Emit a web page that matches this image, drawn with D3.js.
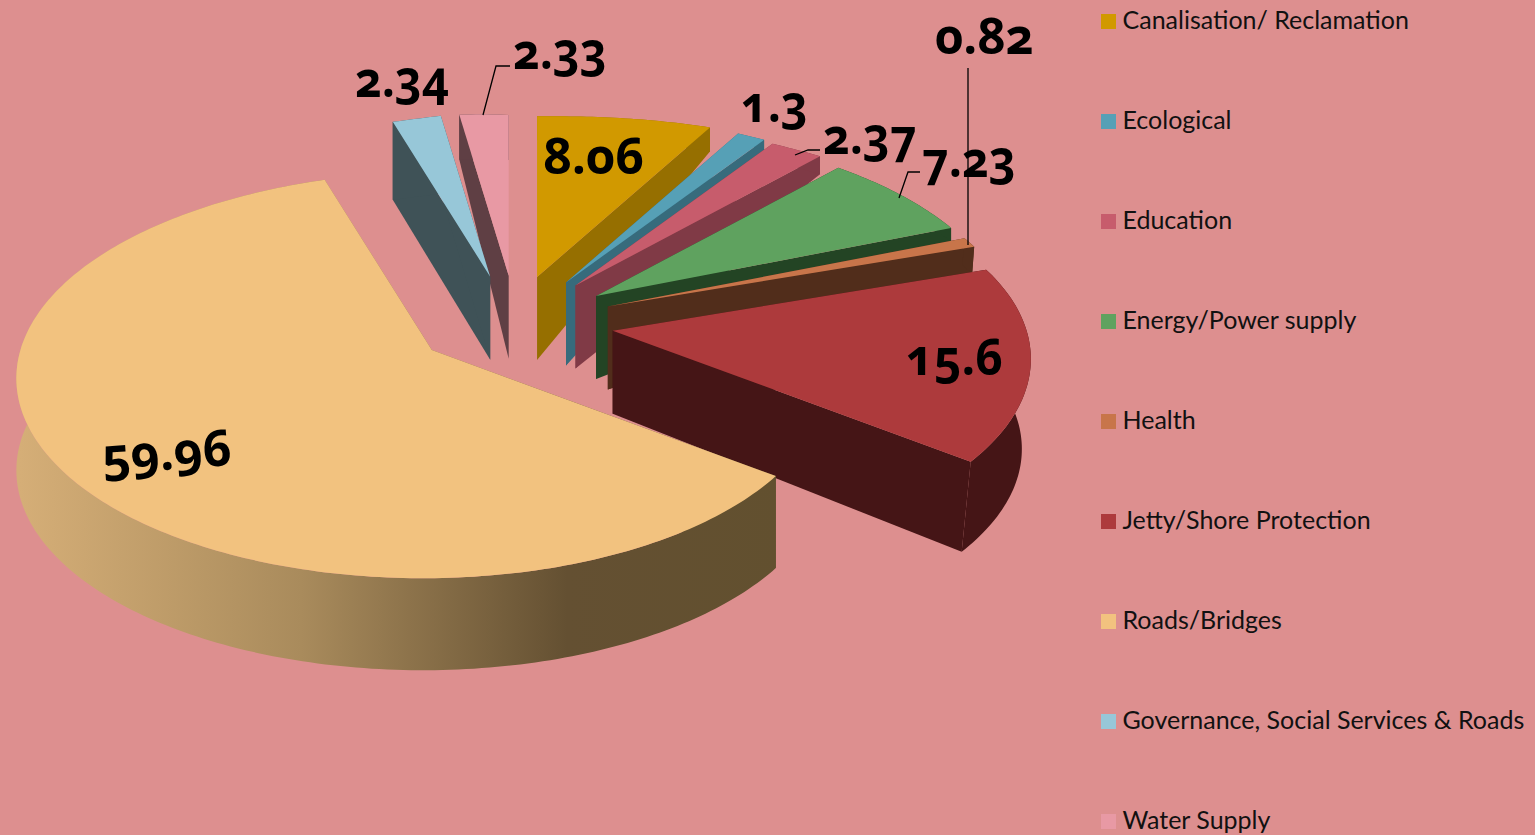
<!DOCTYPE html>
<html><head><meta charset="utf-8">
<script src="https://cdn.jsdelivr.net/npm/d3@7/dist/d3.min.js"></script>
<style>
html,body{margin:0;padding:0;background:#dd8f8f;overflow:hidden}
svg{display:block}
.val{font-family:"Open Sans",Lato,sans-serif;font-weight:700;font-size:50px;font-variant-numeric:oldstyle-nums;fill:#000}
.leg{font-family:Lato,"Open Sans",sans-serif;font-size:25px;fill:#111}
</style></head><body>
<script>
const categories=["Canalisation/ Reclamation","Ecological","Education","Energy/Power supply","Health","Jetty/Shore Protection","Roads/Bridges","Governance, Social Services & Roads","Water Supply"];
const values=[8.06,1.3,2.37,7.23,0.82,15.6,59.96,2.34,2.33];
const labels=["8.06","1.3","2.37","7.23","0.82","15.6","59.96","2.34","2.33"];
const topColors=["#d19900","#56a0b6","#c75c6c","#5fa25f","#c8754a","#ad3a3c","#f2c27f","#97c7d8","#e899a4"];
const wallColors=["#966f00","#376b7c","#803a46","#234424","#512d1b","#451516","url(#roadsWall)","#3f5257","#5f3f44"];
const rimDepth=[24,10,18,14,27,90,92,78,45];
const rimLean=[0,0,0,0,-2,-9,0,0,0];
const gainStart=[1,1.04,1.035,1.035,1.04,1.06,0.985,1,1.01];
const gainEnd=[1.045,1.04,1.045,1.035,1.04,1.025,1.10,1.01,1];
const nudgeX=[-2,0,0,0,0,0,0,-2,2];
const labelSqueeze=[1,0.93,0.93,0.93,0.98,0.96,1,0.93,0.93];
const paintOrder=[8,7,0,1,2,3,4,5,6];
const labelPos=[[543,174],[741,122],[823,154],[922,177],[935,54],[906,375],[103,474],[355,97],[513,69]];
const leaders=[null,null,[[795,155],[808,150],[820,150]],[[899,198],[908,172],[920,172]],[[968,68],[968,245]],null,null,null,[[483,115],[496,66],[510,66]]];

const W=1535,H=835,cx=514,cy=323,ex=100,ey=47.5,R=393,persp=0.174,tilt=0.48,apexDepth=83;
const svg=d3.select("body").append("svg").attr("width",W).attr("height",H);
svg.append("rect").attr("width",W).attr("height",H).attr("fill","#dd8f8f");
const g=svg.append("defs").append("linearGradient").attr("id","roadsWall").attr("gradientUnits","userSpaceOnUse").attr("x1",20).attr("x2",780).attr("y1",0).attr("y2",0);
[[0,"#d5ae77"],[0.37,"#a98b5c"],[0.72,"#645032"],[1,"#62502f"]].forEach(s=>g.append("stop").attr("offset",s[0]).attr("stop-color",s[1]));

const arcs=d3.pie().sort(null).value(d=>d)(values);
const line=d3.line().curve(d3.curveLinear);
const rim=(apex,a,gain)=>{const s=Math.sin(a),c=Math.cos(a),k=gain*R/(1+persp*c);return [apex[0]+k*s,apex[1]-k*tilt*c];};
const slices=arcs.map((d,i)=>{
  const mid=(d.startAngle+d.endAngle)/2;
  const apex=[cx+nudgeX[i]+ex*Math.sin(mid),cy-ey*Math.cos(mid)];
  const n=Math.max(3,Math.ceil((d.endAngle-d.startAngle)*60));
  const pts=d3.range(n+1).map(j=>{const u=j/n;return rim(apex,d.startAngle+(d.endAngle-d.startAngle)*u,gainStart[i]+(gainEnd[i]-gainStart[i])*Math.pow(u,1.5));});
  return {apex,pts,i};
});
const layer=svg.append("g");
paintOrder.forEach(i=>{
  const s=slices[i],dn=p=>[p[0]+rimLean[i],p[1]+rimDepth[i]];
  const ab=[s.apex[0],s.apex[1]+apexDepth];
  const p0=s.pts[0],p1=s.pts[s.pts.length-1];
  const f=wallColors[i];
  layer.append("path").attr("d",line([s.apex,p0,dn(p0),ab])+"Z").attr("fill",f);
  layer.append("path").attr("d",line([s.apex,p1,dn(p1),ab])+"Z").attr("fill",f);
  layer.append("path").attr("d",line([...s.pts,...s.pts.map(dn).reverse()])+"Z").attr("fill",f);
  layer.append("path").attr("d",line([s.apex,...s.pts])+"Z").attr("fill",topColors[i]);
});
leaders.forEach(l=>{if(l)svg.append("path").attr("d",line(l)).attr("fill","none").attr("stroke","#000").attr("stroke-width",1.3);});
labels.forEach((t,i)=>{
  const [x,y]=labelPos[i];
  const rot=i===6?"rotate(-4) ":"";
  svg.append("text").attr("class","val").attr("transform",`translate(${x},${y}) ${rot}scale(${labelSqueeze[i]},1)`).text(t);
});
const ly=d3.scalePoint().domain(categories).range([21,821]);
categories.forEach((c,i)=>{
  const y=ly(c);
  svg.append("rect").attr("x",1101).attr("y",y-7).attr("width",15).attr("height",15).attr("fill",topColors[i]);
  svg.append("text").attr("class","leg").attr("x",1122.5).attr("y",y+8).text(c);
});
</script></body></html>
